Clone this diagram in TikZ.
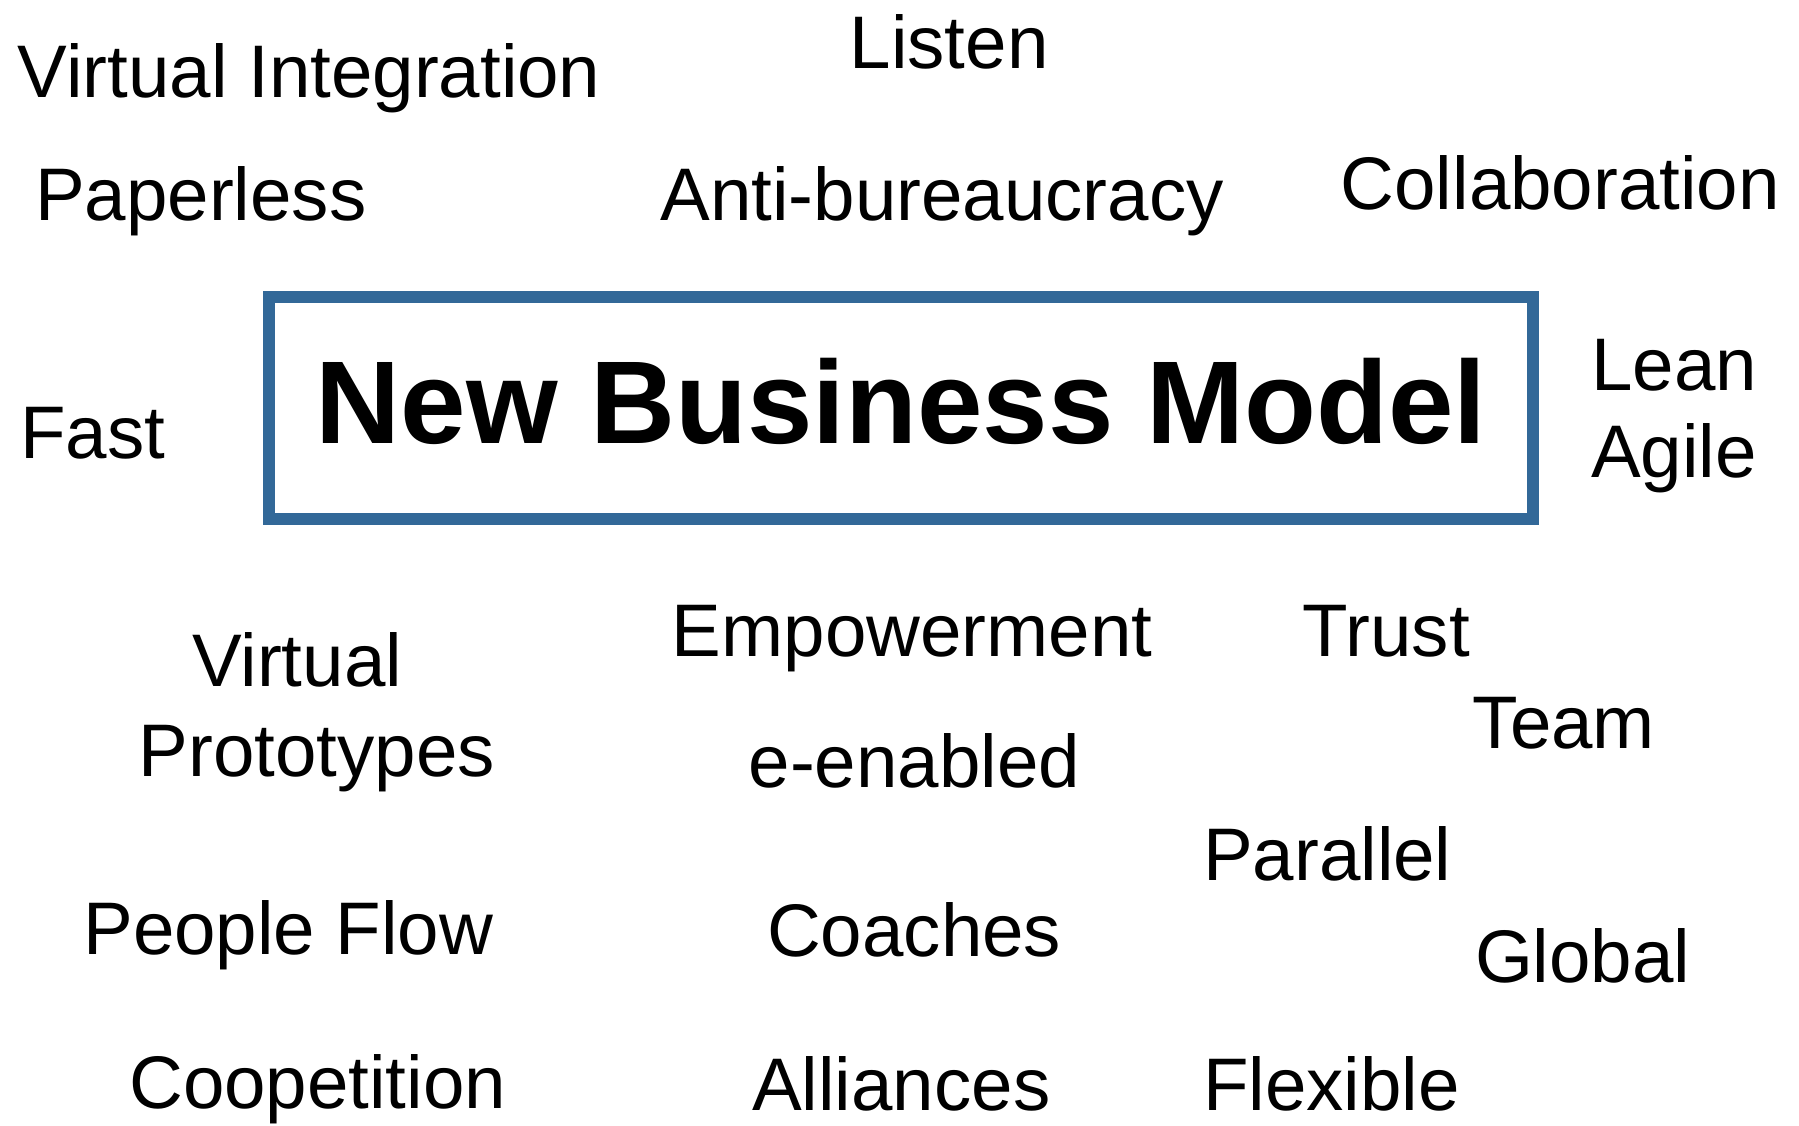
\documentclass[tikz,border=0pt]{standalone}
\usepackage{xcolor}
\usepackage{fontspec}
\setmainfont{Liberation Sans}
\usepackage{tikz}
\usetikzlibrary{shapes,positioning,calc}

\definecolor{boxblue}{RGB}{50,104,152}

\tikzset{
    word/.style={inner sep=0pt, anchor=base west, font=\fontsize{21.2}{25.4}\selectfont},
    wordc/.style={word, anchor=base},
    core/.style={rectangle, draw=boxblue, line width=3.4pt, minimum width=12.64cm, minimum height=2.22cm,
        text height=0.85cm, text depth=0.14cm, font=\fontsize{33.5}{40}\selectfont\bfseries}
}

\begin{document}
\begin{tikzpicture}
    \useasboundingbox (0,0) rectangle (17.99,11.25);

    \node (model) [core] at (9.012,7.17) {New Business Model};

    % top row
    \node (virtint) [word] at (0.172,10.275) {Virtual Integration};
    \node (listen) [word] at (8.49,10.562) {Listen};
    \node (paper) [word] at (0.344,9.047) {Paperless};
    \node (antibur) [word] at (6.597,9.047) {Anti-bureaucracy};
    \node (collab) [word] at (13.40,9.15) {Collaboration};

    % beside the box
    \node (fast) [word] at (0.195,6.661) {Fast};
    \node (lean) [wordc] at (16.74,7.349) {Lean};
    \node (agile) [wordc] at ([yshift=-0.872cm]lean.base) {Agile};

    % below the box
    \node (virtual) [wordc] at (2.972,4.389) {Virtual};
    \node (proto) [wordc] at (3.167,3.483) {Prototypes};
    \node (empower) [word] at (6.712,4.687) {Empowerment};
    \node (trust) [word] at (13.022,4.687) {Trust};
    \node (team) [word] at (14.72,3.77) {Team};
    \node (eenabled) [word] at (7.48,3.38) {e-enabled};
    \node (parallel) [word] at (12.024,2.45) {Parallel};
    \node (people) [word] at (0.826,1.705) {People Flow};
    \node (coaches) [word] at (7.664,1.682) {Coaches};
    \node (global) [word] at (14.743,1.429) {Global};
    \node (coop) [word] at (1.285,0.167) {Coopetition};
    \node (alliance) [word] at (7.515,0.144) {Alliances};
    \node (flex) [word] at (12.024,0.144) {Flexible};
\end{tikzpicture}
\end{document}
